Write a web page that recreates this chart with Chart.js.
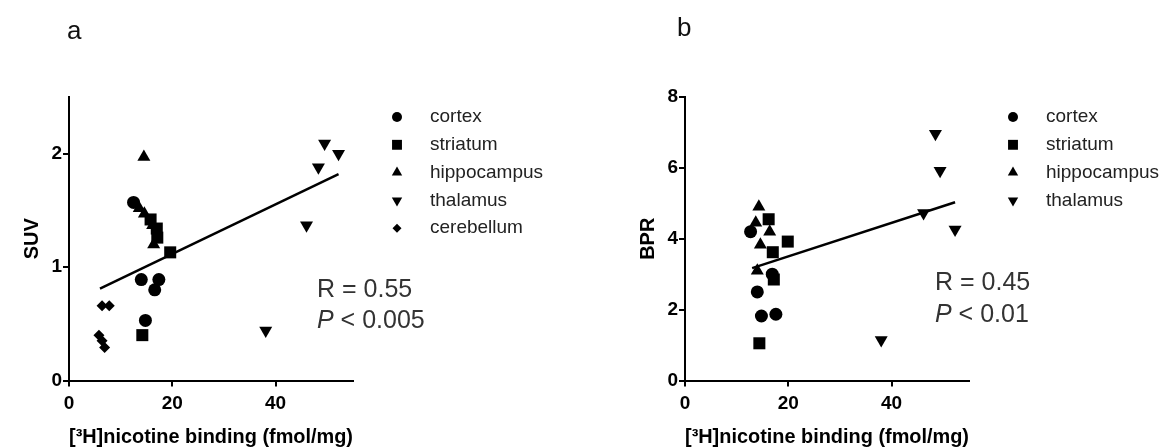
<!DOCTYPE html>
<html>
<head>
<meta charset="utf-8">
<script src="https://cdn.jsdelivr.net/npm/chart.js@4.4.0/dist/chart.umd.min.js"></script>
<style>
  html, body { margin: 0; padding: 0; background: #fff; }
  #wrap { position: relative; width: 1173px; height: 448px; overflow: hidden; }
  #wrap canvas { position: absolute; top: 0; }
  .panel { position: absolute; font: 26px "Liberation Sans", Arial, sans-serif; color: #111; }
</style>
</head>
<body>
<div id="wrap">
  <canvas id="chartA" width="557" height="448" style="left:0"></canvas>
  <canvas id="chartB" width="557" height="448" style="left:616px"></canvas>
  <div class="panel" style="left:67px;top:15px">a</div>
  <div class="panel" style="left:677px;top:12px">b</div>
</div>
<script>
// region names (legend order)
const regions = ['cortex', 'striatum', 'hippocampus', 'thalamus', 'cerebellum'];
const xTicks = [0, 20, 40];

// panel a : SUV
const cortexA_x = [12.5, 14.0, 17.4, 16.6, 14.8];
const cortexA_y = [1.57, 0.89, 0.89, 0.80, 0.53];
const striatumA_x = [14.2, 19.6, 15.8, 17.0, 17.1];
const striatumA_y = [0.40, 1.13, 1.42, 1.34, 1.26];
const hippoA_x = [14.5, 13.6, 14.6, 16.2, 16.4];
const hippoA_y = [1.97, 1.52, 1.47, 1.37, 1.20];
const thalamusA_x = [49.5, 52.2, 48.3, 46.0, 38.1];
const thalamusA_y = [2.09, 2.00, 1.88, 1.37, 0.44];
const cerebA_x = [6.4, 7.8, 5.8, 6.4, 6.9];
const cerebA_y = [0.66, 0.66, 0.40, 0.35, 0.29];
const fitA_x = [6.0, 52.2];
const fitA_y = [0.81, 1.82];
const yTicksA = [0, 1, 2];

// panel b : BPR
const cortexB_x = [12.7, 16.9, 14.0, 14.8, 17.6];
const cortexB_y = [4.2, 3.0, 2.5, 1.82, 1.87];
const striatumB_x = [16.2, 19.9, 17.0, 17.2, 14.4];
const striatumB_y = [4.55, 3.92, 3.62, 2.85, 1.05];
const hippoB_x = [14.3, 13.7, 16.4, 14.6, 14.0];
const hippoB_y = [4.9, 4.45, 4.2, 3.83, 3.1];
const thalamusB_x = [48.5, 49.4, 46.2, 52.3, 38.0];
const thalamusB_y = [6.96, 5.92, 4.73, 4.26, 1.14];
const fitB_x = [13.0, 52.3];
const fitB_y = [3.17, 5.03];
const yTicksB = [0, 2, 4, 6, 8];

Chart.defaults.font.family = '"Liberation Sans", Arial, sans-serif';
Chart.defaults.color = '#000';

const styles = {
  cortex:      { pointStyle: 'circle',   rotation: 0,   radius: 6.5, legendRadius: 5 },
  striatum:    { pointStyle: 'rect',     rotation: 0,   radius: 8.5, legendRadius: 7 },
  hippocampus: { pointStyle: 'triangle', rotation: 0,   radius: 7.5, legendRadius: 6 },
  thalamus:    { pointStyle: 'triangle', rotation: 180, radius: 7.5, legendRadius: 6 },
  cerebellum:  { pointStyle: 'rectRot',  rotation: 0,   radius: 5.5, legendRadius: 4.5 }
};

function pts(xs, ys) { return xs.map((x, i) => ({ x: x, y: ys[i] })); }

function scatterSet(name, xs, ys) {
  const s = styles[name];
  return {
    label: name,
    data: pts(xs, ys),
    pointStyle: s.pointStyle,
    pointRotation: s.rotation,
    pointRadius: s.radius,
    pointBackgroundColor: '#000',
    pointBorderWidth: 0,
    showLine: false,
    clip: false
  };
}

// legend + R/P text, drawn on the canvas
const overlay = {
  id: 'overlay',
  afterDatasetsDraw(chart, args, opts) {
    const ctx = chart.ctx;
    const a = chart.chartArea;
    ctx.save();
    let row = 0;
    chart.data.datasets.forEach(ds => {
      if (!styles[ds.label]) return;
      const s = styles[ds.label];
      const y = 117 + row * 27.8;
      ctx.fillStyle = '#000';
      Chart.helpers.drawPoint(ctx, { pointStyle: s.pointStyle, rotation: s.rotation, radius: s.legendRadius, borderWidth: 0 }, a.left + 328, y);
      ctx.fillStyle = '#222';
      ctx.font = '19px "Liberation Sans", Arial, sans-serif';
      ctx.textBaseline = 'middle';
      ctx.textAlign = 'left';
      ctx.fillText(ds.label, a.left + 361, y);
      row++;
    });
    // stats
    ctx.fillStyle = '#333';
    ctx.textBaseline = 'alphabetic';
    ctx.font = '25px "Liberation Sans", Arial, sans-serif';
    const sx = a.left + opts.statX;
    ctx.fillText(opts.r, sx, opts.statY);
    ctx.font = 'italic 25px "Liberation Sans", Arial, sans-serif';
    ctx.fillText('P', sx, opts.statY + opts.gap);
    const pw = ctx.measureText('P').width;
    ctx.font = '25px "Liberation Sans", Arial, sans-serif';
    ctx.fillText(' ' + opts.p, sx + pw, opts.statY + opts.gap);
    ctx.restore();
  }
};

function makeChart(id, datasets, yMax, yTicks, yTitle, stats) {
  return new Chart(document.getElementById(id), {
    type: 'scatter',
    data: { datasets: datasets },
    options: {
      responsive: false,
      animation: false,
      events: [],
      layout: { padding: { left: 20, right: 204, top: 97, bottom: 0 } },
      plugins: { legend: { display: false }, tooltip: { enabled: false }, overlay: stats },
      scales: {
        x: {
          type: 'linear', min: 0, max: 55,
          afterBuildTicks: s => { s.ticks = xTicks.map(v => ({ value: v })); },
          afterFit: s => { s.height = 67.5; },
          border: { color: '#000', width: 2 },
          grid: { drawOnChartArea: false, color: '#000', lineWidth: 2, tickLength: 6 },
          ticks: { color: '#000', font: { size: 19, weight: 'bold' }, padding: 6, maxRotation: 0 },
          title: { display: true, text: '[\u00B3H]nicotine binding (fmol/mg)', color: '#000',
                   font: { size: 20, weight: 'bold' }, padding: { top: 0, bottom: -1 } }
        },
        y: {
          type: 'linear', min: 0, max: yMax,
          afterBuildTicks: s => { s.ticks = yTicks.map(v => ({ value: v })); },
          afterFit: s => { s.width = 49; },
          border: { color: '#000', width: 2 },
          grid: { drawOnChartArea: false, color: '#000', lineWidth: 2, tickLength: 6 },
          ticks: { color: '#000', font: { size: 19, weight: 'bold' }, padding: 1 },
          title: { display: true, text: yTitle, color: '#000',
                   font: { size: 20, weight: 'bold' }, padding: { top: 0, bottom: 0 } }
        }
      }
    },
    plugins: [overlay]
  });
}

function fitSet(xs, ys) {
  return { label: 'fit', data: pts(xs, ys), showLine: true, borderColor: '#000', borderWidth: 2.5,
           pointRadius: 0, clip: false };
}

makeChart('chartA', [
  scatterSet('cortex', cortexA_x, cortexA_y),
  scatterSet('striatum', striatumA_x, striatumA_y),
  scatterSet('hippocampus', hippoA_x, hippoA_y),
  scatterSet('thalamus', thalamusA_x, thalamusA_y),
  scatterSet('cerebellum', cerebA_x, cerebA_y),
  fitSet(fitA_x, fitA_y)
], 2.5, yTicksA, 'SUV', { r: 'R = 0.55', p: '< 0.005', statX: 248, statY: 297, gap: 31 });

makeChart('chartB', [
  scatterSet('cortex', cortexB_x, cortexB_y),
  scatterSet('striatum', striatumB_x, striatumB_y),
  scatterSet('hippocampus', hippoB_x, hippoB_y),
  scatterSet('thalamus', thalamusB_x, thalamusB_y),
  fitSet(fitB_x, fitB_y)
], 8, yTicksB, 'BPR', { r: 'R = 0.45', p: '< 0.01', statX: 250, statY: 290, gap: 32 });
</script>
</body>
</html>
